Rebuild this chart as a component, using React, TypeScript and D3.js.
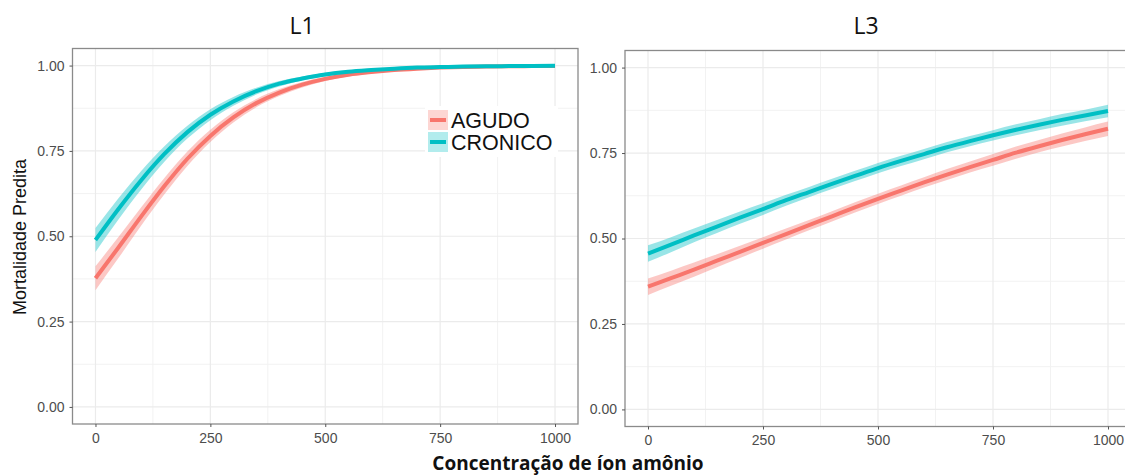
import React, { useRef, useEffect } from 'react'
import * as d3 from 'd3'

// concentração de íon amônio (eixo x)
const concentracao = [0, 50, 100, 150, 200, 250, 300, 350, 400, 450, 500, 550, 600, 650, 700, 750, 800, 850, 900, 950, 1000]

// L1 - mortalidade predita e meia largura da faixa de confiança
const l1Agudo = [0.377, 0.467, 0.559, 0.647, 0.727, 0.794, 0.848, 0.890, 0.921, 0.944, 0.961, 0.973, 0.981, 0.987, 0.991, 0.994, 0.996, 0.997, 0.998, 0.9985, 0.999]
const l1AgudoErro = [0.035, 0.031, 0.027, 0.024, 0.021, 0.018, 0.015, 0.012, 0.010, 0.008, 0.006, 0.005, 0.004, 0.003, 0.002, 0.002, 0.001, 0.001, 0.001, 0.001, 0.001]
const l1Cronico = [0.489, 0.580, 0.665, 0.741, 0.805, 0.856, 0.895, 0.925, 0.947, 0.962, 0.974, 0.982, 0.987, 0.991, 0.994, 0.9956, 0.997, 0.998, 0.9985, 0.999, 0.9993]
const l1CronicoErro = [0.035, 0.031, 0.027, 0.023, 0.019, 0.016, 0.013, 0.010, 0.008, 0.006, 0.005, 0.004, 0.003, 0.002, 0.002, 0.001, 0.001, 0.001, 0.001, 0.001, 0.001]

// L3
const l3Agudo = [0.359, 0.384, 0.409, 0.435, 0.461, 0.487, 0.513, 0.539, 0.565, 0.591, 0.616, 0.640, 0.664, 0.687, 0.709, 0.730, 0.751, 0.770, 0.788, 0.805, 0.821]
const l3AgudoErro = [0.024, 0.022, 0.021, 0.019, 0.018, 0.017, 0.016, 0.015, 0.015, 0.015, 0.015, 0.015, 0.015, 0.016, 0.016, 0.017, 0.018, 0.018, 0.019, 0.020, 0.021]
const l3Cronico = [0.456, 0.482, 0.509, 0.535, 0.561, 0.586, 0.612, 0.636, 0.660, 0.683, 0.706, 0.727, 0.747, 0.767, 0.785, 0.802, 0.818, 0.833, 0.847, 0.860, 0.873]
const l3CronicoErro = [0.024, 0.022, 0.020, 0.019, 0.018, 0.017, 0.016, 0.015, 0.015, 0.015, 0.015, 0.015, 0.015, 0.015, 0.015, 0.015, 0.016, 0.016, 0.017, 0.017, 0.018]

const xTicks = [0, 250, 500, 750, 1000]
const xMinor = [125, 375, 625, 875]
const yTicks = [0, 0.25, 0.5, 0.75, 1]
const yMinor = [0.125, 0.375, 0.625, 0.875]
const grupos = ['AGUDO', 'CRONICO']
const cores = ['#F8766D', '#00BFC4']

export default function App() {
    const svgRef = useRef<SVGSVGElement>(null)

    useEffect(() => {
        const svg = d3.select(svgRef.current)
        svg.selectAll('*').remove()

        const paineis = [
            { titulo: 'L1', tx: 302, left: 72.5, right: 578, top: 48.5, bottom: 424,
              series: [[l1Agudo, l1AgudoErro], [l1Cronico, l1CronicoErro]], legenda: true },
            { titulo: 'L3', tx: 866, left: 625, right: 1131, top: 50.5, bottom: 426.5,
              series: [[l3Agudo, l3AgudoErro], [l3Cronico, l3CronicoErro]], legenda: false },
        ]

        paineis.forEach(p => {
            const x = d3.scaleLinear().domain([-50, 1050]).range([p.left, p.right])
            const y = d3.scaleLinear().domain([-0.05, 1.05]).range([p.bottom, p.top])
            const g = svg.append('g')

            // grade
            g.selectAll('line.minorx').data(xMinor).enter().append('line')
                .attr('x1', d => x(d)).attr('x2', d => x(d))
                .attr('y1', p.top).attr('y2', p.bottom)
                .attr('stroke', '#f2f2f2').attr('stroke-width', 1)
            g.selectAll('line.minory').data(yMinor).enter().append('line')
                .attr('y1', d => y(d)).attr('y2', d => y(d))
                .attr('x1', p.left).attr('x2', p.right)
                .attr('stroke', '#f2f2f2').attr('stroke-width', 1)
            g.selectAll('line.majorx').data(xTicks).enter().append('line')
                .attr('x1', d => x(d)).attr('x2', d => x(d))
                .attr('y1', p.top).attr('y2', p.bottom)
                .attr('stroke', '#ebebeb').attr('stroke-width', 1.2)
            g.selectAll('line.majory').data(yTicks).enter().append('line')
                .attr('y1', d => y(d)).attr('y2', d => y(d))
                .attr('x1', p.left).attr('x2', p.right)
                .attr('stroke', '#ebebeb').attr('stroke-width', 1.2)

            const area = d3.area<number>()
                .x((d, i) => x(concentracao[i]))
                .curve(d3.curveMonotoneX)
            const line = d3.line<number>()
                .x((d, i) => x(concentracao[i]))
                .y(d => y(d))
                .curve(d3.curveMonotoneX)

            p.series.forEach(([val, err], k) => {
                g.append('path')
                    .datum(val)
                    .attr('d', area.y0((d, i) => y(d - err[i])).y1((d, i) => y(d + err[i])))
                    .attr('fill', cores[k])
                    .attr('fill-opacity', 0.4)
            })
            p.series.forEach(([val], k) => {
                g.append('path')
                    .datum(val)
                    .attr('d', line)
                    .attr('fill', 'none')
                    .attr('stroke', cores[k])
                    .attr('stroke-width', 4)
            })

            // moldura
            g.append('rect')
                .attr('x', p.left).attr('y', p.top)
                .attr('width', p.right - p.left).attr('height', p.bottom - p.top)
                .attr('fill', 'none').attr('stroke', '#8a8a8a').attr('stroke-width', 1.3)

            const ax = g.append('g')
                .attr('transform', `translate(0,${p.bottom})`)
                .call(d3.axisBottom(x).tickValues(xTicks).tickSize(3).tickPadding(6).tickFormat(d3.format('d')))
            const ay = g.append('g')
                .attr('transform', `translate(${p.left},0)`)
                .call(d3.axisLeft(y).tickValues(yTicks).tickSize(3).tickPadding(5).tickFormat(d3.format('.2f')))
            ;[ax, ay].forEach(a => {
                a.select('.domain').remove()
                a.selectAll('line').attr('stroke', '#555')
                a.selectAll('text')
                    .attr('fill', '#4d4d4d')
                    .style('font-family', '"Liberation Sans", Arial, sans-serif')
                    .style('font-size', '14px')
            })

            g.append('text')
                .attr('x', p.tx).attr('y', 34)
                .attr('text-anchor', 'middle')
                .style('font-family', '"Open Sans", sans-serif')
                .style('font-size', '23px')
                .attr('fill', '#111')
                .text(p.titulo)

            if (p.legenda) {
                const lg = g.append('g')
                lg.append('rect')
                    .attr('x', 425).attr('y', 106).attr('width', 133).attr('height', 51)
                    .attr('fill', 'white')
                grupos.forEach((nome, k) => {
                    const ky = 110 + k * 22
                    lg.append('rect')
                        .attr('x', 428).attr('y', ky).attr('width', 20).attr('height', 20)
                        .attr('fill', cores[k]).attr('fill-opacity', 0.3)
                    lg.append('line')
                        .attr('x1', 430).attr('x2', 446)
                        .attr('y1', ky + 10).attr('y2', ky + 10)
                        .attr('stroke', cores[k]).attr('stroke-width', 4)
                    lg.append('text')
                        .attr('x', 451).attr('y', ky + 18)
                        .style('font-family', '"Liberation Sans", Arial, sans-serif')
                        .style('font-size', '21.5px')
                        .attr('fill', '#111')
                        .text(nome)
                })
            }
        })

        svg.append('text')
            .attr('transform', 'translate(26,237) rotate(-90)')
            .attr('text-anchor', 'middle')
            .style('font-family', '"Liberation Sans", Arial, sans-serif')
            .style('font-size', '18px')
            .attr('fill', '#111')
            .text('Mortalidade Predita')

        svg.append('text')
            .attr('x', 568).attr('y', 470)
            .attr('text-anchor', 'middle')
            .style('font-family', '"Open Sans", sans-serif')
            .style('font-size', '19px')
            .style('font-weight', 'bold')
            .attr('fill', '#111')
            .text('Concentração de íon amônio')
    }, [])

    return (
        <div style={{ position: 'absolute', left: 0, top: 0, width: 1125, height: 476, background: 'white' }}>
            <svg ref={svgRef} width={1125} height={476} style={{ display: 'block' }}></svg>
        </div>
    )
}
